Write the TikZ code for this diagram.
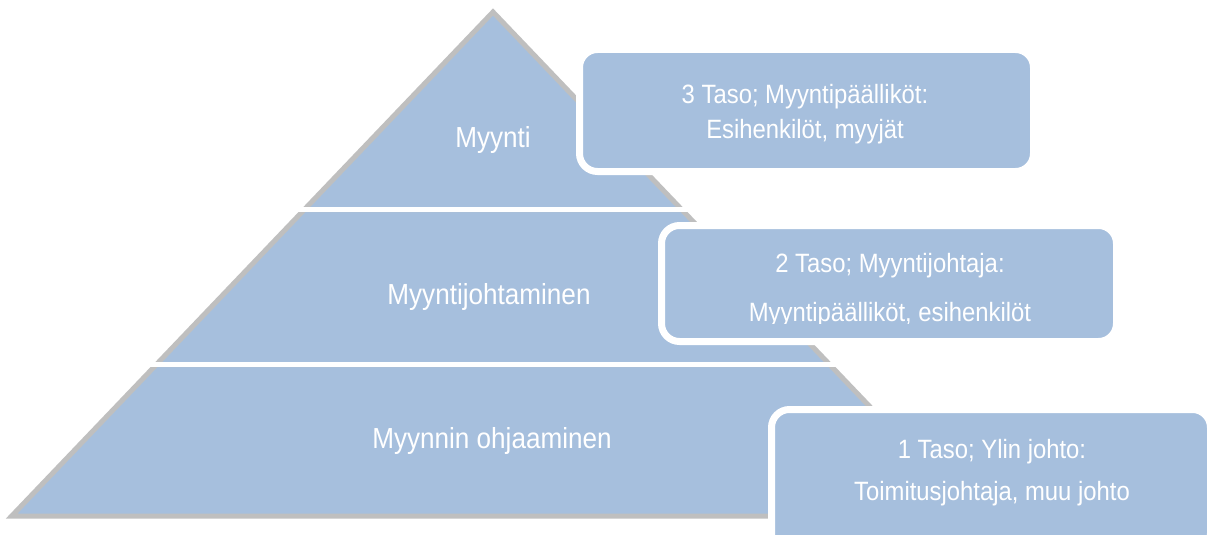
\documentclass[tikz,border=0pt]{standalone}
\usepackage{fontspec}
\setmainfont{Liberation Sans}[FakeStretch=0.9]
\definecolor{tierblue}{RGB}{166,191,221}
\definecolor{edgegrey}{RGB}{191,191,191}
\tikzset{
  tier/.style={fill=tierblue, draw=edgegrey, line width=5pt, line join=miter},
  gap/.style={draw=white, line width=5pt},
  levelbox/.style={rectangle, rounded corners=18pt, fill=tierblue, draw=white, line width=7pt, inner sep=0pt},
  tiertext/.style={anchor=base, text=white, inner sep=0pt, font=\fontsize{29}{34}\selectfont},
  boxtext/.style={anchor=base, text=white, inner sep=0pt, font=\fontsize{26.5}{31}\selectfont}
}
\begin{document}
\begin{tikzpicture}[x=1pt,y=-1pt]
\useasboundingbox (0,0) rectangle (1208,535);
\clip (0,0) rectangle (1208,535);
\fill[white] (0,0) rectangle (1208,535);
% pyramid tiers
\draw[tier] (493,12) -- (681.6,209.5) -- (304.4,209.5) -- cycle;
\draw[tier] (304.4,209.5) -- (681.6,209.5) -- (829.6,364.5) -- (156.4,364.5) -- cycle;
\draw[tier] (156.4,364.5) -- (829.6,364.5) -- (974.3,516) -- (11.7,516) -- cycle;
\draw[gap] (295,209.5) -- (691,209.5);
\draw[gap] (146,364.5) -- (840,364.5);
% tier labels
\node[tiertext] (t3) at (493,147) {Myynti};
\node[tiertext] (t2) at (489,304) {Myyntijohtaminen};
\node[tiertext] (t1) at (492,448) {Myynnin ohjaaminen};
% level boxes
\node[levelbox, minimum width=454pt, minimum height=122pt] (b3) at (806.5,110.5) {};
\node[levelbox, minimum width=455pt, minimum height=116pt] (b2) at (889,283.5) {};
\node[levelbox, minimum width=439pt, minimum height=142pt] (b1) at (991,480.5) {};
% box texts
\node[boxtext] (b3a) at (805,103) {3 Taso; Myyntipäälliköt:};
\node[boxtext] (b3b) at (805,138) {Esihenkilöt, myyjät};
\node[boxtext] (b2a) at (890,272) {2 Taso; Myyntijohtaja:};
\begin{scope}
\clip (600,200) rectangle (1200,323);
\node[boxtext] (b2b) at (890,321) {Myyntipäälliköt, esihenkilöt};
\end{scope}
\node[boxtext] (b1a) at (992,458) {1 Taso; Ylin johto:};
\node[boxtext] (b1b) at (992,500) {Toimitusjohtaja, muu johto};
\end{tikzpicture}
\end{document}
